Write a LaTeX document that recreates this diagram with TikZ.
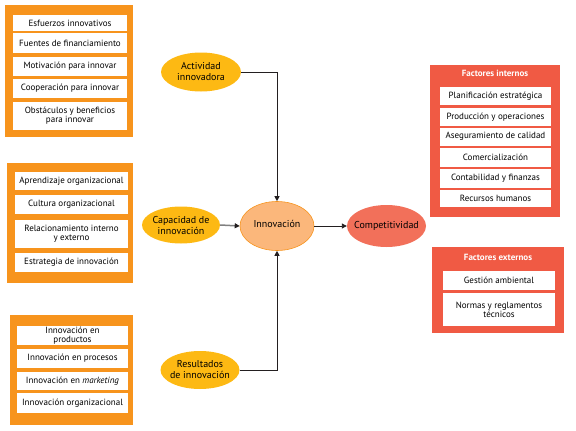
\documentclass[tikz,border=0pt]{standalone}
\usepackage{fontspec}
\setmainfont{PT Sans}
\usetikzlibrary{arrows.meta,shapes.geometric}
\definecolor{orangebox}{HTML}{F7941D}
\definecolor{yellowell}{HTML}{FDB913}
\definecolor{innfill}{HTML}{FBB77B}
\definecolor{compfill}{HTML}{F2705A}
\definecolor{redbox}{HTML}{F05A44}
\definecolor{linegray}{HTML}{231F20}
\tikzset{
  outerbox/.style={draw=none,fill=orangebox,inner sep=0pt},
  redpanel/.style={draw=none,fill=redbox,inner sep=0pt},
  item/.style={draw=none,fill=white,inner sep=1pt,align=center,font=\fontsize{9}{9}\selectfont},
  ell/.style={ellipse,draw=none,fill=yellowell,inner sep=0pt},
  elltext/.style={align=center,inner sep=0pt,font=\fontsize{10}{11}\selectfont},
  ptitle/.style={text=white,font=\bfseries\fontsize{9}{10}\selectfont},
  conn/.style={draw=linegray,line width=0.9pt,-{Triangle[length=5pt,width=5pt]}},
  connG/.style={draw=gray,line width=1.5pt,-{Triangle[length=5pt,width=5pt,color=linegray]}}
}
\begin{document}
\begin{tikzpicture}[x=1pt,y=-1pt]
\useasboundingbox (0,0) rectangle (576,431);
% left box 1
\node[outerbox,minimum width=128,minimum height=132] (b1) at (69,71) {};
\node[item,minimum width=114,minimum height=16] (b1a) at (70,23) {Esfuerzos innovativos};
\node[item,minimum width=114,minimum height=20] (b1b) at (70,43) {Fuentes de financiamiento};
\node[item,minimum width=114,minimum height=19] (b1c) at (70,66.5) {Motivación para innovar};
\node[item,minimum width=114,minimum height=19] (b1d) at (70,88.5) {Cooperación para innovar};
\node[item,minimum width=114,minimum height=28] (b1e) at (70,116) {Obstáculos y beneficios\\para innovar};
% left box 2
\node[outerbox,minimum width=126,minimum height=120] (b2) at (70,223) {};
\node[item,minimum width=113,minimum height=18] (b2a) at (71.5,181) {Aprendizaje organizacional};
\node[item,minimum width=113,minimum height=19] (b2b) at (71.5,204.5) {Cultura organizacional};
\node[item,minimum width=113,minimum height=28] (b2c) at (71.5,234) {Relacionamiento interno\\y externo};
\node[item,minimum width=113,minimum height=19] (b2d) at (71.5,262.5) {Estrategia de innovación};
% left box 3
\node[outerbox,minimum width=123,minimum height=110] (b3) at (71.5,370) {};
\node[item,minimum width=111,minimum height=19] (b3a) at (72.5,335.5) {Innovación en\\productos};
\node[item,minimum width=111,minimum height=19] (b3b) at (72.5,358.5) {Innovación en procesos};
\node[item,minimum width=111,minimum height=18] (b3c) at (72.5,381) {Innovación en \emph{marketing}};
\node[item,minimum width=111,minimum height=20] (b3d) at (72.5,403) {Innovación organizacional};
% ellipses
\node[ell,minimum width=80,minimum height=39,label={[elltext]center:Actividad\\innovadora}] (act) at (201,72) {};
\node[ell,minimum width=78,minimum height=37,label={[elltext]center:Capacidad de\\innovación}] (cap) at (181,225) {};
\node[ell,minimum width=79,minimum height=38,label={[elltext]center:Resultados\\de innovación}] (res) at (200,370) {};
\node[ell,fill=innfill,draw=orangebox,line width=0.6pt,minimum width=74,minimum height=49,label={[elltext,yshift=2pt]center:Innovación}] (inn) at (277,226) {};
\node[ell,fill=compfill,minimum width=79,minimum height=42,label={[elltext]center:Competitividad}] (comp) at (386.5,226) {};
% right panel internos
\node[redpanel,minimum width=130,minimum height=152] (fi) at (495,141) {};
\node[ptitle] (fit) at (495,73.5) {Factores internos};
\node[item,minimum width=111,minimum height=18] (fi1) at (495.5,96) {Planificación estratégica};
\node[item,minimum width=111,minimum height=18] (fi2) at (495.5,117) {Producción y operaciones};
\node[item,minimum width=111,minimum height=18] (fi3) at (495.5,136.5) {Aseguramiento de calidad};
\node[item,minimum width=111,minimum height=19] (fi4) at (495.5,157.5) {Comercialización};
\node[item,minimum width=111,minimum height=19] (fi5) at (495.5,178) {Contabilidad y finanzas};
\node[item,minimum width=111,minimum height=17] (fi6) at (495.5,198.5) {Recursos humanos};
% right panel externos
\node[redpanel,minimum width=132,minimum height=86] (fe) at (498,290) {};
\node[ptitle] (fet) at (498,257) {Factores externos};
\node[item,minimum width=112,minimum height=19] (fe1) at (499,280.5) {Gestión ambiental};
\node[item,minimum width=112,minimum height=33] (fe2) at (499,309.5) {Normas y reglamentos\\técnicos};
% connectors
\draw[conn] (act.east) -| (inn.north);
\draw[conn] (res.east) -| (inn.south);
\draw[connG] (cap.east) -- (inn.west);
\draw[conn] (inn.east) -- (comp.west);
\end{tikzpicture}
\end{document}
